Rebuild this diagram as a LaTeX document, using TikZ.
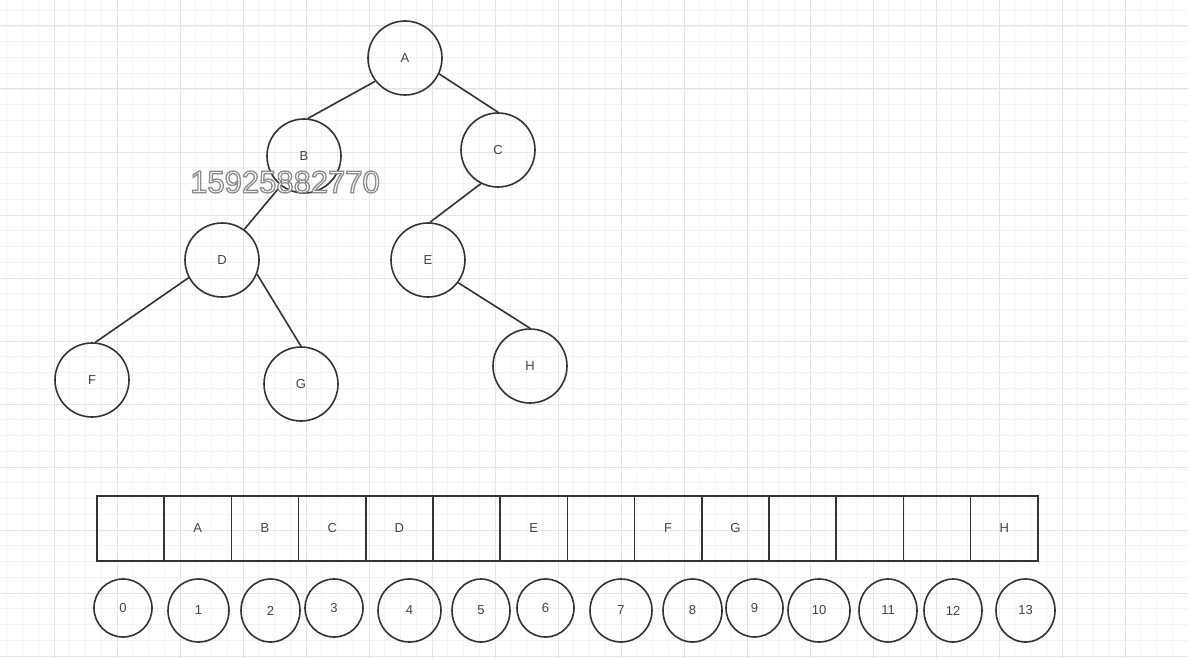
\documentclass[tikz,border=0pt]{standalone}
\usepackage{fontspec}
\setmainfont{Liberation Sans}
\usetikzlibrary{shapes.geometric}
\definecolor{lineC}{HTML}{333333}
\definecolor{txtC}{HTML}{444444}
\definecolor{minorC}{HTML}{F3F3F3}
\definecolor{majorC}{HTML}{E4E4E4}
\begin{document}
\begin{tikzpicture}[x=1pt,y=-1pt,
  tnode/.style={circle,draw=lineC,line width=1.6pt,minimum size=74pt,inner sep=0pt,text=txtC,font=\fontsize{13}{15}\selectfont},
  cell/.style={rectangle,draw=lineC,line width=1.6pt,minimum width=67.2pt,minimum height=65pt,inner sep=0pt,text=txtC,font=\fontsize{13}{15}\selectfont},
  idx/.style={ellipse,draw=lineC,line width=1.6pt,inner sep=0pt,text=txtC,font=\fontsize{13}{15}\selectfont},
  edge/.style={draw=lineC,line width=1.6pt},
  wm/.style={font=\fontsize{31}{33}\selectfont}]
\useasboundingbox (0,0) rectangle (1188,658);
\fill[white] (0,0) rectangle (1188,658);
% grid
\foreach \i in {0,...,75} \draw[minorC,line width=0.8pt] ({6.75+15.75*\i},0) -- ({6.75+15.75*\i},658);
\foreach \i in {0,...,42} \draw[minorC,line width=0.8pt] (0,{10.25+15.75*\i}) -- (1188,{10.25+15.75*\i});
\foreach \i in {0,...,18} \draw[majorC,line width=1pt] ({54+63*\i},0) -- ({54+63*\i},658);
\foreach \i in {0,...,10} \draw[majorC,line width=1pt] (0,{26+63*\i}) -- (1188,{26+63*\i});
% tree
\node[tnode] (A) at (405,58) {A};
\node[tnode] (B) at (304,156) {B};
\node[tnode] (C) at (498,150) {C};
\node[tnode] (D) at (222,260) {D};
\node[tnode] (E) at (428,260) {E};
\node[tnode] (F) at (92,380) {F};
\node[tnode] (G) at (301,384) {G};
\node[tnode] (H) at (530,366) {H};
\draw[edge] (A.218) -- (B.84);
\draw[edge] (A.335) -- (C.90);
\draw[edge] (B.232) -- (D.54);
\draw[edge] (D.208) -- (F.85);
\draw[edge] (D.338) -- (G.90);
\draw[edge] (C.243) -- (E.87);
\draw[edge] (E.323) -- (H.90);
% array
\node[cell] (c0) at (130.6,528.5) {};
\node[cell] (c1) at (197.8,528.5) {A};
\node[cell] (c2) at (265.0,528.5) {B};
\node[cell] (c3) at (332.2,528.5) {C};
\node[cell] (c4) at (399.4,528.5) {D};
\node[cell] (c5) at (466.6,528.5) {};
\node[cell] (c6) at (533.8,528.5) {E};
\node[cell] (c7) at (601.0,528.5) {};
\node[cell] (c8) at (668.2,528.5) {F};
\node[cell] (c9) at (735.4,528.5) {G};
\node[cell] (c10) at (802.6,528.5) {};
\node[cell] (c11) at (869.8,528.5) {};
\node[cell] (c12) at (937.0,528.5) {};
\node[cell] (c13) at (1004.2,528.5) {H};
% indices
\node[idx,minimum width=58pt,minimum height=58pt] (i0) at (123,608) {0};
\node[idx,minimum width=61pt,minimum height=63pt] (i1) at (198.5,610.5) {1};
\node[idx,minimum width=59pt,minimum height=63pt] (i2) at (270.5,610.5) {2};
\node[idx,minimum width=58pt,minimum height=58pt] (i3) at (334,608) {3};
\node[idx,minimum width=63pt,minimum height=63pt] (i4) at (409.5,610.5) {4};
\node[idx,minimum width=58pt,minimum height=63pt] (i5) at (481,610.5) {5};
\node[idx,minimum width=57pt,minimum height=58pt] (i6) at (545.5,608) {6};
\node[idx,minimum width=62pt,minimum height=63pt] (i7) at (621,610.5) {7};
\node[idx,minimum width=59pt,minimum height=63pt] (i8) at (692.5,610.5) {8};
\node[idx,minimum width=57pt,minimum height=58pt] (i9) at (754.5,608) {9};
\node[idx,minimum width=62pt,minimum height=63pt] (i10) at (819,610.5) {10};
\node[idx,minimum width=58pt,minimum height=63pt] (i11) at (888,610.5) {11};
\node[idx,minimum width=58pt,minimum height=63pt] (i12) at (953,610.5) {12};
\node[idx,minimum width=59pt,minimum height=63pt] (i13) at (1025.5,610.5) {13};
% watermark
\node[wm,text=white] (wm) at (285,182) {\special{pdf:literal 2 Tr 1.3 w 0.55 G}15925882770\special{pdf:literal 0 Tr}};
\end{tikzpicture}
\end{document}
